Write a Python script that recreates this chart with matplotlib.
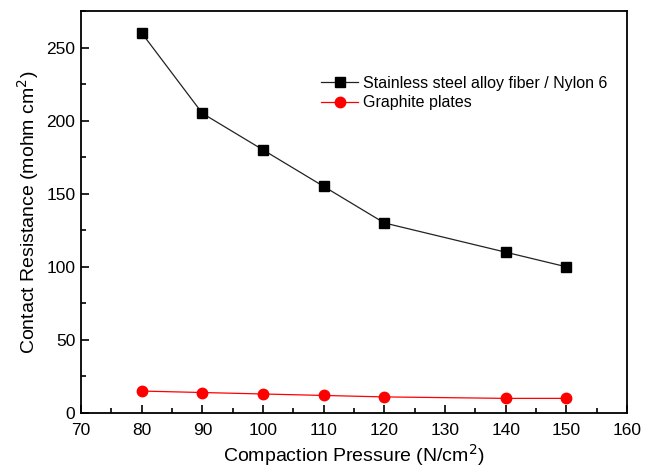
import numpy as np
import matplotlib
matplotlib.use('Agg')
import matplotlib.pyplot as plt
from matplotlib.ticker import MultipleLocator

plt.rcParams['font.family'] = ['Liberation Sans', 'DejaVu Sans']

pressure = [80, 90, 100, 110, 120, 140, 150]
steel = [260, 205, 180, 155, 130, 110, 100]
graphite = [15, 14, 13, 12, 11, 10, 10]

fig = plt.figure(figsize=(6.45, 4.7), dpi=100)
ax = fig.add_axes([0.1256, 0.1213, 0.8465, 0.8553])

ax.plot(pressure, steel, '-', color='#222222', marker='s', mfc='k', mec='k',
        ms=7, lw=0.9, label='Stainless steel alloy fiber / Nylon 6')
ax.plot(pressure, graphite, '-', color='#ff0000', marker='o', ms=7.5, lw=0.9,
        label='Graphite plates')

ax.set_xlim(70, 160)
ax.set_ylim(0, 275)
ax.xaxis.set_major_locator(MultipleLocator(10))
ax.xaxis.set_minor_locator(MultipleLocator(5))
ax.yaxis.set_major_locator(MultipleLocator(50))
ax.yaxis.set_minor_locator(MultipleLocator(25))
ax.tick_params(which='both', direction='in', top=False, right=False,
               labelsize=12.5, width=1.2)
ax.tick_params(axis='x', pad=7)
ax.tick_params(axis='y', pad=4)
ax.tick_params(which='major', length=6)
ax.tick_params(which='minor', length=3.5)
for s in ax.spines.values():
    s.set_linewidth(1.3)

ax.set_xlabel('Compaction Pressure (N/cm$^2$)', fontsize=14, labelpad=3)
ax.set_ylabel('Contact Resistance (mohm cm$^2$)', fontsize=14, labelpad=4)

ax.legend(loc='upper right', bbox_to_anchor=(0.99, 0.875), frameon=False,
          fontsize=11.5, handlelength=2.3, handletextpad=0.3, labelspacing=0.3)

fig.savefig('out.png', dpi=100)
